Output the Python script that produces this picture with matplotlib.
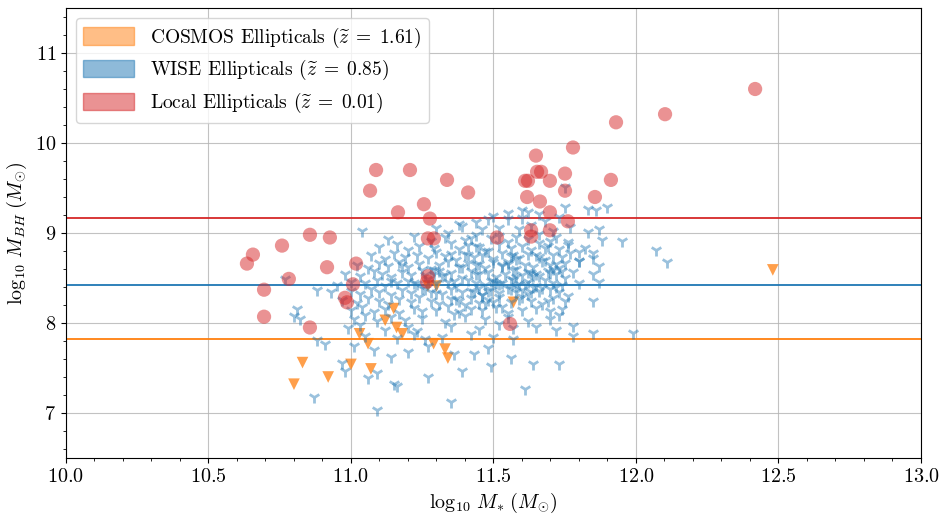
import numpy as np
import matplotlib
matplotlib.use('Agg')
import matplotlib.pyplot as plt
import matplotlib.patches as mpatches
from matplotlib.ticker import MultipleLocator

plt.rcParams['font.family'] = ['cmr10', 'DejaVu Serif']
plt.rcParams['mathtext.fontset'] = 'cm'
plt.rcParams['axes.formatter.use_mathtext'] = True

# median z of each sample (legend) and median log M_BH (horizontal lines)
z_cosmos, z_wise, z_local = 1.61, 0.85, 0.01
line_cosmos, line_wise, line_local = 7.82, 8.42, 9.17

# COSMOS ellipticals
cosmos_mstar = [10.83, 10.80, 10.92, 11.00, 11.07, 11.06, 11.03, 11.12, 11.15,
                11.16, 11.18, 11.29, 11.33, 11.34, 11.27, 11.30, 11.57, 12.48]
cosmos_mbh = [7.56, 7.32, 7.40, 7.54, 7.49, 7.77, 7.88, 8.03, 8.16,
              7.95, 7.88, 7.77, 7.71, 7.61, 8.41, 8.41, 8.23, 8.59]

# Local ellipticals
local_mstar = [10.635, 10.656, 10.758, 10.782, 10.695, 10.695, 10.856, 10.926, 10.916,
               10.856, 10.979, 10.986, 11.007, 11.018, 11.067, 11.088, 11.165, 11.207,
               11.256, 11.277, 11.270, 11.291, 11.270, 11.267, 11.337, 11.411, 11.512,
               11.558, 11.611, 11.621, 11.618, 11.632, 11.632, 11.649, 11.653, 11.667,
               11.663, 11.698, 11.698, 11.698, 11.751, 11.751, 11.761, 11.779, 11.856,
               11.912, 11.930, 12.102, 12.418]
local_mbh = [8.66, 8.76, 8.86, 8.49, 8.37, 8.07, 8.98, 8.95, 8.62,
             7.95, 8.28, 8.23, 8.43, 8.66, 9.47, 9.70, 9.23, 9.70,
             9.32, 9.16, 8.94, 8.94, 8.52, 8.46, 9.59, 9.45, 8.95,
             7.99, 9.58, 9.58, 9.40, 9.03, 8.96, 9.86, 9.68, 9.68,
             9.35, 9.58, 9.23, 9.03, 9.66, 9.47, 9.13, 9.95, 9.40,
             9.59, 10.23, 10.32, 10.60]

# WISE ellipticals
wise_mstar = [
    11.75, 11.55, 11.60, 11.66, 11.75, 11.83, 11.86, 11.90, 11.62,
    11.44, 11.48, 11.55, 11.50, 11.68, 11.73, 11.38, 11.60,
    11.04, 11.34, 11.39, 11.46, 11.52, 11.59, 11.63, 11.71, 11.77, 11.83, 11.87, 11.30,
    11.13, 11.22, 11.28, 11.33, 11.40, 11.44, 11.49, 11.55, 11.58, 11.62, 11.66, 11.70,
    11.72, 11.76, 11.88, 11.95, 11.52, 11.42,
    11.10, 11.16, 11.20, 11.24, 11.29, 11.35, 11.38, 11.41, 11.45, 11.48, 11.52, 11.56,
    11.60, 11.63, 11.66, 11.69, 11.73, 11.76, 11.80, 11.82, 11.85, 12.07,
    11.07, 11.12, 11.15, 11.19, 11.23, 11.27, 11.30, 11.33, 11.37, 11.40, 11.43, 11.46,
    11.50, 11.53, 11.56, 11.59, 11.62, 11.65, 11.68, 11.71, 11.74, 11.77, 11.80, 11.85, 11.57,
    11.02, 11.06, 11.10, 11.13, 11.17, 11.20, 11.24, 11.28, 11.31, 11.34, 11.38, 11.41,
    11.44, 11.47, 11.50, 11.53, 11.55, 11.58, 11.61, 11.64, 11.67, 11.70, 11.73, 11.75,
    11.80, 11.87, 12.11, 11.45,
    10.98, 11.03, 11.08, 11.11, 11.14, 11.18, 11.21, 11.25, 11.29, 11.32, 11.35, 11.39,
    11.42, 11.45, 11.48, 11.51, 11.54, 11.57, 11.60, 11.63, 11.66, 11.69, 11.72, 11.75,
    11.78, 11.85, 11.26, 11.44, 11.58, 11.70,
    10.77, 10.95, 11.00, 11.05, 11.09, 11.12, 11.16, 11.20, 11.23, 11.27, 11.30, 11.34,
    11.37, 11.41, 11.44, 11.47, 11.50, 11.53, 11.56, 11.59, 11.62, 11.65, 11.68, 11.71,
    11.74, 11.80, 11.87, 11.36, 11.52, 11.64,
    10.88, 10.93, 11.00, 11.03, 11.07, 11.10, 11.14, 11.18, 11.21, 11.25, 11.28, 11.32,
    11.35, 11.39, 11.42, 11.46, 11.49, 11.52, 11.55, 11.58, 11.62, 11.66, 11.70, 11.73,
    11.76, 11.45, 11.30, 11.60,
    10.97, 11.02, 11.06, 11.10, 11.13, 11.17, 11.21, 11.24, 11.28, 11.31, 11.35, 11.38,
    11.42, 11.45, 11.48, 11.52, 11.56, 11.59, 11.63, 11.67, 11.71, 11.75, 11.85, 11.40, 11.50,
    10.81, 11.00, 11.04, 11.08, 11.12, 11.17, 11.22, 11.25, 11.30, 11.34, 11.38, 11.42,
    11.46, 11.51, 11.55, 11.60, 11.65, 11.70, 11.74, 11.36,
    10.80, 10.82, 11.01, 11.05, 11.09, 11.14, 11.19, 11.25, 11.33, 11.40, 11.47, 11.55,
    11.62, 11.70, 11.73,
    10.99, 11.03, 11.12, 11.20, 11.23, 11.35, 11.45, 11.52, 11.57, 11.65, 11.72, 11.78,
    10.88, 11.05, 11.16, 11.22, 11.26, 11.32, 11.42, 11.50, 11.85, 11.99, 11.78, 11.57,
    10.91, 11.08, 11.14, 11.27, 11.36, 11.43, 11.48, 11.56, 11.20, 11.01,
    10.97, 10.98, 11.06, 11.09, 11.16, 11.39, 11.49, 11.64, 11.73, 11.27,
    10.87, 11.09, 11.35, 11.61, 11.15,
    # extra points filling the dense core
    11.47, 11.53, 11.58, 11.62, 11.68, 11.72, 11.49, 11.56, 11.64, 11.71,
    11.43, 11.51, 11.60, 11.67, 11.74, 11.39, 11.46, 11.55, 11.61, 11.69,
    11.33, 11.41, 11.48, 11.57, 11.65, 11.22, 11.31, 11.37, 11.44, 11.53,
    11.63, 11.72, 11.18, 11.26, 11.35, 11.47, 11.58, 11.66, 11.14, 11.29,
]
wise_mbh = [
    9.51, 9.22, 9.25, 9.21, 9.29, 9.27, 9.26, 9.29, 9.23,
    9.12, 9.16, 9.15, 9.19, 9.13, 9.18, 9.10, 9.17,
    9.02, 9.00, 9.08, 9.04, 9.06, 9.04, 9.09, 9.02, 9.07, 9.01, 9.04, 9.05,
    8.93, 8.97, 8.91, 8.95, 8.92, 8.98, 8.94, 8.90, 8.96, 8.93, 8.99, 8.91,
    8.95, 8.90, 8.92, 8.91, 8.97, 8.94,
    8.84, 8.88, 8.81, 8.86, 8.83, 8.89, 8.82, 8.87, 8.84, 8.80, 8.88, 8.83,
    8.86, 8.81, 8.89, 8.85, 8.82, 8.87, 8.79, 8.83, 8.78, 8.81,
    8.75, 8.71, 8.78, 8.73, 8.76, 8.72, 8.79, 8.74, 8.70, 8.77, 8.73, 8.76,
    8.71, 8.78, 8.74, 8.72, 8.77, 8.75, 8.70, 8.76, 8.73, 8.78, 8.69, 8.72, 8.76,
    8.64, 8.61, 8.67, 8.63, 8.68, 8.62, 8.66, 8.60, 8.65, 8.69, 8.62, 8.67,
    8.64, 8.61, 8.68, 8.63, 8.66, 8.60, 8.65, 8.62, 8.69, 8.64, 8.61, 8.67,
    8.69, 8.63, 8.68, 8.66,
    8.55, 8.52, 8.58, 8.54, 8.51, 8.57, 8.53, 8.59, 8.55, 8.52, 8.56, 8.50,
    8.58, 8.54, 8.57, 8.51, 8.55, 8.59, 8.53, 8.56, 8.52, 8.58, 8.54, 8.50,
    8.57, 8.54, 8.53, 8.55, 8.51, 8.56,
    8.49, 8.42, 8.46, 8.44, 8.48, 8.41, 8.45, 8.47, 8.43, 8.49, 8.44, 8.46,
    8.41, 8.48, 8.45, 8.42, 8.47, 8.44, 8.49, 8.43, 8.46, 8.41, 8.48, 8.45,
    8.42, 8.44, 8.46, 8.47, 8.43, 8.40,
    8.37, 8.34, 8.36, 8.32, 8.38, 8.35, 8.31, 8.37, 8.33, 8.39, 8.35, 8.32,
    8.38, 8.34, 8.36, 8.31, 8.37, 8.33, 8.39, 8.35, 8.32, 8.36, 8.38, 8.34,
    8.30, 8.39, 8.33, 8.37,
    8.26, 8.22, 8.28, 8.24, 8.21, 8.27, 8.23, 8.29, 8.25, 8.21, 8.27, 8.24,
    8.28, 8.22, 8.26, 8.29, 8.23, 8.27, 8.25, 8.21, 8.28, 8.24, 8.25, 8.20, 8.23,
    8.16, 8.14, 8.18, 8.12, 8.16, 8.11, 8.17, 8.13, 8.15, 8.19, 8.12, 8.16,
    8.14, 8.18, 8.11, 8.15, 8.17, 8.13, 8.16, 8.10,
    8.08, 8.05, 8.04, 8.09, 8.02, 8.07, 8.03, 8.06, 8.01, 8.08, 8.04, 8.07,
    8.02, 8.05, 8.09,
    7.95, 7.98, 7.92, 7.96, 7.91, 7.97, 7.93, 7.99, 7.94, 7.96, 7.92, 7.97,
    7.81, 7.86, 7.83, 7.88, 7.82, 7.85, 7.88, 7.84, 7.89, 7.89, 7.86, 7.82,
    7.77, 7.70, 7.62, 7.74, 7.66, 7.66, 7.72, 7.61, 7.68, 7.75,
    7.56, 7.47, 7.39, 7.45, 7.30, 7.47, 7.52, 7.55, 7.55, 7.40,
    7.18, 7.03, 7.12, 7.27, 7.32,
    8.80, 8.64, 8.71, 8.57, 8.83, 8.66, 8.47, 8.38, 8.52, 8.60,
    8.35, 8.44, 8.29, 8.39, 8.58, 8.62, 8.31, 8.68, 8.43, 8.25,
    8.53, 8.75, 8.36, 8.48, 8.55, 8.44, 8.58, 8.27, 8.86, 8.18,
    8.34, 8.40, 8.65, 8.38, 8.77, 8.22, 8.41, 8.73, 8.47, 8.59,
]

fig = plt.figure(figsize=(9.45, 5.16), dpi=100)
ax = fig.add_axes([0.0698, 0.1124, 0.9048, 0.8721])

ax.scatter(cosmos_mstar, cosmos_mbh, marker='v', s=70, color='tab:orange',
           alpha=0.75, edgecolors='none', zorder=3)
ax.scatter(wise_mstar, wise_mbh, marker='1', s=75, color='tab:blue',
           alpha=0.45, linewidths=2.0, zorder=3)
ax.scatter(local_mstar, local_mbh, marker='o', s=105, color='tab:red',
           alpha=0.5, edgecolors='none', zorder=4)

ax.axhline(line_cosmos, color='tab:orange', lw=1.3, zorder=2)
ax.axhline(line_wise, color='tab:blue', lw=1.3, zorder=2)
ax.axhline(line_local, color='tab:red', lw=1.3, zorder=2)

ax.set_xlim(10.0, 13.0)
ax.set_ylim(6.5, 11.5)
ax.xaxis.set_major_locator(MultipleLocator(0.5))
ax.xaxis.set_minor_locator(MultipleLocator(0.1))
ax.yaxis.set_major_locator(MultipleLocator(1))
ax.yaxis.set_minor_locator(MultipleLocator(0.2))
ax.grid(True, which='major', color='0.7', lw=0.8, alpha=0.8, zorder=0)
ax.set_axisbelow(True)
ax.tick_params(labelsize=14.5)

ax.set_xlabel(r'$\log_{10}\,M_{*}\;(M_{\odot})$', fontsize=14.5)
ax.set_ylabel(r'$\log_{10}\,M_{BH}\;(M_{\odot})$', fontsize=14.5)

handles = [
    mpatches.Patch(color='tab:orange', alpha=0.5,
                   label=r'COSMOS Ellipticals ($\widetilde{z}\;=\;%.2f$)' % z_cosmos),
    mpatches.Patch(color='tab:blue', alpha=0.5,
                   label=r'WISE Ellipticals ($\widetilde{z}\;=\;%.2f$)' % z_wise),
    mpatches.Patch(color='tab:red', alpha=0.5,
                   label=r'Local Ellipticals ($\widetilde{z}\;=\;%.2f$)' % z_local),
]
ax.legend(handles=handles, loc='upper left', fontsize=14, handlelength=2.6,
          handleheight=1.0, labelspacing=0.45, framealpha=0.8)

fig.savefig('out.png', dpi=100)
